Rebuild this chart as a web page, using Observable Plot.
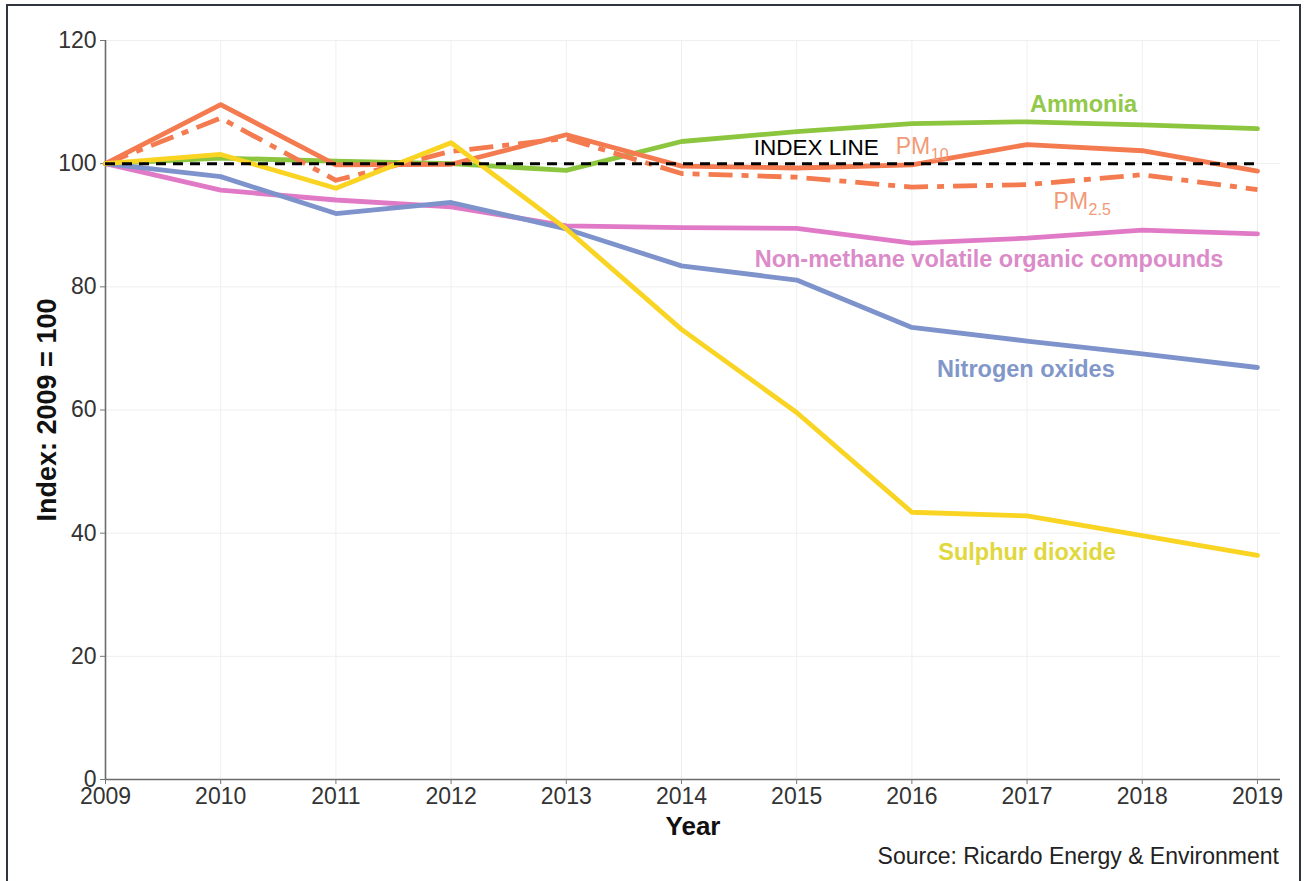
<!DOCTYPE html>
<html><head><meta charset="utf-8">
<script src="https://cdn.jsdelivr.net/npm/d3@7"></script>
<script src="https://cdn.jsdelivr.net/npm/@observablehq/plot@0.6"></script>
<style>
body{margin:0;background:#fff;font-family:"Liberation Sans",Arial,sans-serif;}
#wrap{position:relative;width:1306px;height:881px;overflow:hidden;background:#fff;}
#chart{position:absolute;left:0;top:0;}
#caption{position:absolute;right:27px;top:843px;font-size:23px;color:#222;font-family:"Liberation Sans",Arial,sans-serif;}
#frame{position:absolute;left:6px;top:4px;width:1291px;height:920px;border:2.5px solid #30343d;pointer-events:none;}
</style></head><body>
<div id="wrap"><div id="chart"></div><div id="caption">Source: Ricardo Energy &amp; Environment</div><div id="frame"></div></div>
<script>
// ---- data ----
const years = [2009, 2010, 2011, 2012, 2013, 2014, 2015, 2016, 2017, 2018, 2019];
const ammonia = [100, 100.9, 100.4, 100.0, 98.9, 103.6, 105.2, 106.5, 106.8, 106.3, 105.7];
const pm10    = [100, 109.6, 99.8, 99.9, 104.7, 99.6, 99.3, 99.8, 103.1, 102.1, 98.8];
const pm25    = [100, 107.4, 97.3, 102.0, 104.1, 98.4, 97.8, 96.2, 96.6, 98.2, 95.8];
const nmvoc   = [100, 95.7, 94.1, 93.0, 89.9, 89.6, 89.5, 87.1, 87.9, 89.2, 88.6];
const nox     = [100, 97.9, 91.9, 93.7, 89.4, 83.4, 81.1, 73.4, 71.2, 69.1, 66.9];
const so2     = [100, 101.5, 96.0, 103.4, 89.4, 73.1, 59.6, 43.4, 42.8, 39.6, 36.4];
const indexValue = 100;
const yTicks = [0, 20, 40, 60, 80, 100, 120];
const xLabel = "Year";
const yLabel = "Index: 2009 = 100";
const indexLabel = "INDEX LINE";

// series names and label anchor points (data units)
const seriesNames = ["Ammonia", "PM10", "PM2.5", "Non-methane volatile organic compounds", "Nitrogen oxides", "Sulphur dioxide"];
const labelYear  = [2017.49, 2015.86, 2017.23, 2016.67, 2016.99, 2017.0];
const labelValue = [109.6, 102.7, 93.85, 84.45, 66.6, 36.8];
const indexLabelPos = [2015.17, 102.6];

// ---- styles ----
const lineColors = ["#8cc63e", "#f47a4f", "#f47a4f", "#e07ac6", "#7e93cb", "#f9d423"];
const textColors = ["#93c84a", "#f29a78", "#f29a78", "#dc8bc9", "#8297c9", "#e0d83c"];
const dashes = [null, null, "24,9,7,9", null, null, null];

const valuesBySeries = [ammonia, pm10, pm25, nmvoc, nox, so2];
const rows = seriesNames.map((name, k) => years.map((yr, i) => ({year: yr, value: valuesBySeries[k][i], series: name})));

const drawOrder = [0, 3, 4, 2, 1, 5];
const font = "'Liberation Sans', Arial, sans-serif";

const marks = [
  Plot.gridX(years, {stroke: "#efefef", strokeOpacity: 1, strokeWidth: 1}),
  Plot.gridY(yTicks, {stroke: "#efefef", strokeOpacity: 1, strokeWidth: 1}),
  Plot.ruleX([years[0]], {stroke: "#6b6b6b", strokeWidth: 1.6}),
  Plot.ruleY([0], {stroke: "#6b6b6b", strokeWidth: 1.6}),
  Plot.axisX(years, {tickFormat: d => String(d), fontSize: 23, tickSize: 5, tickPadding: 3, label: null, stroke: "#777"}),
  Plot.axisY(yTicks, {fontSize: 23, tickSize: 5, tickPadding: 4, label: null, stroke: "#777"}),
  ...drawOrder.map(k => Plot.line(rows[k], {x: "year", y: "value", stroke: lineColors[k], strokeWidth: 4.8,
      strokeDasharray: dashes[k] || undefined, strokeLinejoin: "round", strokeLinecap: dashes[k] ? "butt" : "round"})),
  Plot.ruleY([indexValue], {x1: years[0], x2: years[years.length - 1], stroke: "#000", strokeWidth: 3, strokeDasharray: "10,7"}),
  // axis titles
  Plot.text([yLabel], {frameAnchor: "left", dx: -58, rotate: -90, textAnchor: "middle", lineAnchor: "middle", fontSize: 27, fontWeight: "bold", fill: "#111"}),
  Plot.text([xLabel], {frameAnchor: "bottom", dy: 47, textAnchor: "middle", lineAnchor: "middle", fontSize: 26, fontWeight: "bold", fill: "#111"}),
  // index line label
  Plot.text([indexLabel], {x: () => indexLabelPos[0], y: () => indexLabelPos[1], textAnchor: "middle", lineAnchor: "middle", fontSize: 22.5, fill: "#000"}),
  // series labels (bold)
  ...[0, 3, 4, 5].map(k => Plot.text([seriesNames[k]], {x: () => labelYear[k], y: () => labelValue[k], textAnchor: "middle", lineAnchor: "middle",
      fontSize: 23.5, fontWeight: "bold", fill: textColors[k]})),
  // PM labels with subscripts
  ...[1, 2].map(k => Plot.text([seriesNames[k]], {x: () => labelYear[k], y: () => labelValue[k], text: d => d.slice(0, 2), textAnchor: "start", lineAnchor: "middle",
      fontSize: 23, fill: textColors[k]})),
  ...[1, 2].map(k => Plot.text([seriesNames[k]], {x: () => labelYear[k], y: () => labelValue[k], text: d => d.slice(2), textAnchor: "start", lineAnchor: "middle",
      dx: 35, dy: 8, fontSize: 16, fill: textColors[k]}))
];

const chart = Plot.plot({
  width: 1306,
  height: 840,
  marginLeft: 105,
  marginRight: 26,
  marginTop: 40,
  marginBottom: 61,
  x: {domain: [years[0], 2019.2], type: "linear"},
  y: {domain: [0, 120]},
  style: {fontFamily: font, color: "#333", background: "transparent", overflow: "visible"},
  marks
});
document.getElementById("chart").appendChild(chart);
</script>
</body></html>
